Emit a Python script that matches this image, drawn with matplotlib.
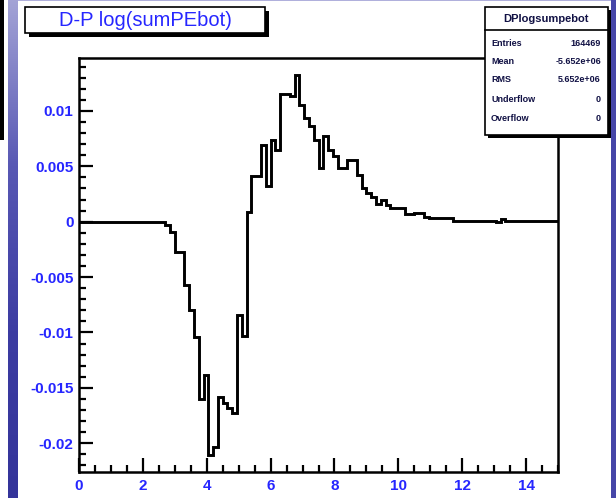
import numpy as np
import matplotlib
matplotlib.use("Agg")
import matplotlib.pyplot as plt
from matplotlib.patches import Rectangle
from matplotlib.ticker import MultipleLocator, FuncFormatter

# ------------------------------------------------------------------
# Data: D-P log(sumPEbot), 100 bins from 0 to 15
# ------------------------------------------------------------------
x_lo, x_hi, n_bins = 0.0, 15.0, 100
diff_vals = [0.0] * 18 + [
    -0.0003, -0.0009, -0.0027, -0.0027, -0.0057, -0.0080, -0.0104, -0.0160,
    -0.0138, -0.0211, -0.0203, -0.0158, -0.0164, -0.0168, -0.0173, -0.0084,
    -0.0103, 0.0009, 0.0041, 0.0041, 0.0069, 0.0032, 0.0074, 0.0065,
    0.0115, 0.0115, 0.0113, 0.0132, 0.0105, 0.0094, 0.0086, 0.0074,
    0.0048, 0.0077, 0.0065, 0.0059, 0.0048, 0.0048, 0.0056, 0.0056,
    0.0042, 0.0030, 0.0026, 0.0022, 0.0016, 0.0020, 0.0015, 0.0012,
    0.0012, 0.0012, 0.0007, 0.0007, 0.0008, 0.0008, 0.00045,
    0.0003, 0.0003, 0.0003, 0.0003, 0.0003,
    0.0001, 0.0001, 0.0001, 0.0001, 0.0001, 0.0001, 0.0001, 0.0001, 0.0001,
    0.0, 0.0002,
    0.0001, 0.0001, 0.0001, 0.0001, 0.0001, 0.0001, 0.0001, 0.0001, 0.0001,
    0.0001, 0.0001,
]
title = "D-P log(sumPEbot)"
stats_name = "DPlogsumpebot"
stats_labels = ["Entries", "Mean", "RMS", "Underflow", "Overflow"]
stats_values = ["164469", "-5.652e+06", "5.652e+06", "0", "0"]

W, H = 616, 498
BLUE = "#2626ff"
FONT = "Liberation Sans"


def fx(px):
    return px / W


def fy(py):
    return 1 - py / H


def pixel_box(fig, x0, y0, x1, y1, **kw):
    """Rectangle given in image pixel coords (y down)."""
    r = Rectangle((fx(x0), fy(y1)), fx(x1) - fx(x0), fy(y0) - fy(y1),
                  transform=fig.transFigure, **kw)
    fig.add_artist(r)
    return r


fig = plt.figure(figsize=(W / 100, H / 100), dpi=100)
fig.patch.set_facecolor("white")

# --- main axes ---
ax = fig.add_axes([fx(79), fy(472), fx(558) - fx(79), fy(58) - fy(472)])
edges = np.linspace(x_lo, x_hi, n_bins + 1)
ax.stairs(diff_vals, edges, baseline=None, color="black", linewidth=2.1)
ax.set_xlim(x_lo, x_hi)
ax.set_ylim(-0.02259, 0.01477)

ax.xaxis.set_major_locator(MultipleLocator(2))
ax.xaxis.set_minor_locator(MultipleLocator(0.5))
ax.yaxis.set_major_locator(MultipleLocator(0.005))
ax.yaxis.set_minor_locator(MultipleLocator(0.001))
ax.yaxis.set_major_formatter(FuncFormatter(lambda v, p: f"{round(v, 6) + 0.0:g}"))
ax.tick_params(which="both", direction="in", top=False, right=False,
               width=1.6, colors="black", labelcolor=BLUE, labelsize=11)
ax.tick_params(which="major", length=10)
ax.tick_params(which="minor", length=5)
ax.tick_params(axis="x", pad=5)
ax.tick_params(axis="y", pad=4)
for lab in ax.get_xticklabels() + ax.get_yticklabels():
    lab.set_fontfamily(FONT)
    lab.set_fontweight("bold")
for s in ax.spines.values():
    s.set_linewidth(1.8)

# --- title box with shadow ---
pixel_box(fig, 29, 11, 269, 37, facecolor="black", edgecolor="none")
pixel_box(fig, 25, 7, 265, 33, facecolor="white", edgecolor="black", linewidth=1.2)
fig.text(fx(145), fy(20), title, color=BLUE, fontsize=14.5, fontfamily=FONT,
         ha="center", va="center")

# --- stats box with shadow ---
pixel_box(fig, 488, 10, 611, 138, facecolor="black", edgecolor="none")
pixel_box(fig, 485, 7, 608, 135, facecolor="white", edgecolor="black", linewidth=1.2)
fig.add_artist(plt.Line2D([fx(485), fx(608)], [fy(30), fy(30)],
                          transform=fig.transFigure, color="black", linewidth=1.2))
fig.text(fx(546.5), fy(18.5), stats_name, color="#111144", fontsize=8,
         fontfamily=FONT, fontweight="bold", ha="center", va="center")
row_y = [43, 61.7, 80, 99.3, 118.3]
for lab, val, yy in zip(stats_labels, stats_values, row_y):
    fig.text(fx(491), fy(yy), lab, color="#111144", fontsize=6.5, fontfamily=FONT,
             fontweight="bold", ha="left", va="center")
    fig.text(fx(601), fy(yy), val, color="#111144", fontsize=6.5, fontfamily=FONT,
             fontweight="bold", ha="right", va="center")

# --- slide decorations: black bar and blue gradient strips ---
pixel_box(fig, 0, 0, 4, 140, facecolor="black", edgecolor="none")
strip = fig.add_axes([fx(8), 0, fx(18) - fx(8), 1])
grad = np.linspace(0, 1, 256).reshape(-1, 1)
cmap = matplotlib.colors.LinearSegmentedColormap.from_list(
    "slide", ["#a4a4d6", "#5858b4", "#3c3ca2", "#34349a"])
strip.imshow(grad, aspect="auto", cmap=cmap, extent=[0, 1, 1, 0])
strip.axis("off")
pixel_box(fig, 611, 0, 616, 498, facecolor="#4646a8", edgecolor="none")
pixel_box(fig, 18, 0, 611, 1.5, facecolor="#b0b0dc", edgecolor="none")

fig.savefig("out.png", dpi=100)
